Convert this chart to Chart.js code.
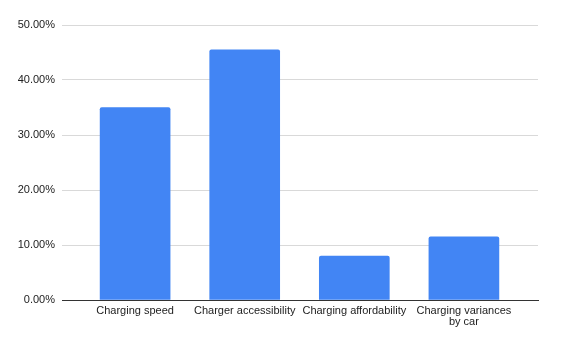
<!DOCTYPE html>
<html>
<head>
<meta charset="utf-8">
<script src="https://cdn.jsdelivr.net/npm/chart.js@4/dist/chart.umd.min.js"></script>
<style>
  html, body { margin: 0; padding: 0; background: #fff; }
  #wrap { width: 563px; height: 341px; }
</style>
</head>
<body>
<div id="wrap"><canvas id="c" width="563" height="341"></canvas></div>
<script>
const categories = ["Charging speed", "Charger accessibility", "Charging affordability", ["Charging variances", "by car"]];
const values = [35.0, 45.5, 8.0, 11.5];
const yTicks = [0, 10, 20, 30, 40, 50];

const FONT = 'Arial, "Liberation Sans", sans-serif';

new Chart(document.getElementById('c'), {
  type: 'bar',
  data: {
    datasets: [{
      data: values.map((v, i) => ({ x: i, y: v })),
      backgroundColor: '#4285F4',
      borderRadius: 2,
      barThickness: 70
    }]
  },
  options: {
    responsive: false,
    animation: false,
    devicePixelRatio: 1,
    layout: { padding: { top: 25, right: 25, bottom: 0, left: 0 } },
    plugins: { legend: { display: false }, tooltip: { enabled: false } },
    scales: {
      x: {
        type: 'linear',
        offset: false,
        min: -0.667,
        max: 3.676,
        grid: { display: false, drawTicks: false, offset: false },
        border: { display: true, color: '#333333', width: 1 },
        afterBuildTicks: (s) => { s.ticks = categories.map((_, i) => ({ value: i })); },
        afterFit: (s) => { s.height = 41; },
        ticks: {
          autoSkip: false,
          maxRotation: 0,
          padding: 5,
          color: '#222222',
          font: { family: FONT, size: 11, lineHeight: 1.0 },
          callback: (v) => categories[v]
        }
      },
      y: {
        min: 0,
        max: 50,
        afterBuildTicks: (s) => { s.ticks = yTicks.map(v => ({ value: v })); },
        afterFit: (s) => { s.width = 62; },
        grid: { color: '#d9d9d9', drawTicks: false },
        border: { display: false },
        ticks: {
          padding: 7,
          color: '#222222',
          font: { family: FONT, size: 11 },
          callback: (v) => v.toFixed(2) + '%'
        }
      }
    }
  }
});
</script>
</body>
</html>
